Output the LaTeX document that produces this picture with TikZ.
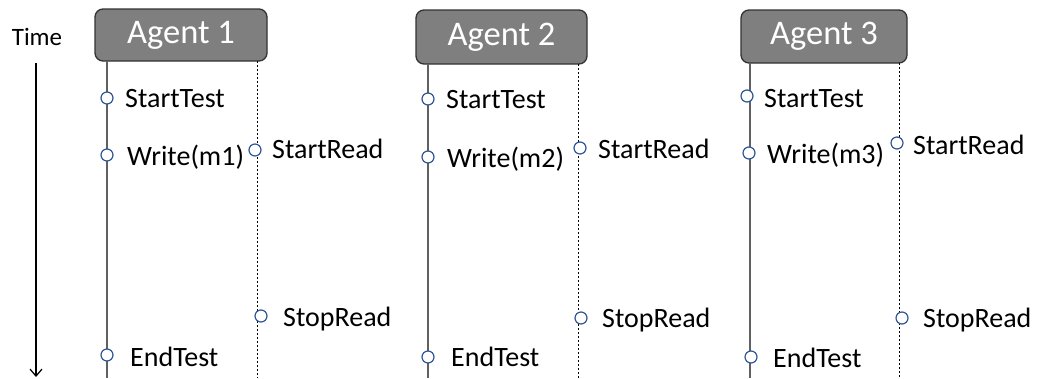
\documentclass[tikz,border=0pt]{standalone}
\usepackage{fontspec}
\setmainfont{Carlito}
\usetikzlibrary{arrows.meta}
\definecolor{boxfill}{HTML}{7F7F7F}
\definecolor{boxdraw}{HTML}{333333}
\definecolor{lifegray}{HTML}{606060}
\definecolor{evblue}{HTML}{2F5597}
\tikzset{
  agentbox/.style={draw=boxdraw, line width=1.3pt, fill=boxfill, rounded corners=8pt, text=white,
    font=\fontsize{34.5}{40}\selectfont, inner sep=0pt},
  life/.style={draw=lifegray, line width=1.2pt},
  readline/.style={draw=black, line width=0.8pt, dash pattern=on 2pt off 2pt},
  ev/.style={circle, draw=evblue, fill=white, line width=1.2pt, minimum size=12pt, inner sep=0pt},
  lbl/.style={anchor=base west, inner sep=0pt, font=\fontsize{28}{32}\selectfont},
  timelbl/.style={anchor=base, inner sep=0pt, font=\fontsize{25}{30}\selectfont},
}
\begin{document}
\begin{tikzpicture}[x=1pt,y=-1pt]
\useasboundingbox (0,0) rectangle (1043,378);
% Time axis
\node[timelbl] (time) at (37,45) {Time};
\coordinate (tA) at (36,63);
\coordinate (tB) at (36,377);
\draw[line width=1.2pt, -{Straight Barb[length=7pt,width=12pt,line width=1.2pt]}] (tA) -- (tB);
% Agent boxes
\node[agentbox, minimum width=172pt, minimum height=52pt] (a1) at (181,35) {Agent 1};
\node[agentbox, minimum width=171pt, minimum height=54pt] (a2) at (501.5,37) {Agent 2};
\node[agentbox, minimum width=166pt, minimum height=53pt] (a3) at (824,36.5) {Agent 3};
% lifeline coordinates
\coordinate (s1t) at (107,61); \coordinate (s1b) at (107,378);
\coordinate (d1t) at (257,61); \coordinate (d1b) at (257,378);
\coordinate (s2t) at (428,64); \coordinate (s2b) at (428,378);
\coordinate (d2t) at (578,64); \coordinate (d2b) at (578,378);
\coordinate (s3t) at (750,63); \coordinate (s3b) at (750,378);
\coordinate (d3t) at (899,63); \coordinate (d3b) at (899,378);
\draw[life] (s1t) -- (s1b);
\draw[readline] (d1t) -- (d1b);
\draw[life] (s2t) -- (s2b);
\draw[readline] (d2t) -- (d2b);
\draw[life] (s3t) -- (s3b);
\draw[readline] (d3t) -- (d3b);
% Agent 1 events
\node[ev] (st1) at (107,98) {};
\node[ev] (wr1) at (107,155) {};
\node[ev] (sr1) at (255,150) {};
\node[ev] (sp1) at (261,316) {};
\node[ev] (et1) at (107,355) {};
\node[lbl] (lst1) at (125,107) {StartTest};
\node[lbl] (lwr1) at (127,165) {Write(m1)};
\node[lbl] (lsr1) at (272,158) {StartRead};
\node[lbl] (lsp1) at (283,326) {StopRead};
\node[lbl] (let1) at (130,366) {EndTest};
% Agent 2 events
\node[ev] (st2) at (428,99) {};
\node[ev] (wr2) at (428,157) {};
\node[ev] (sr2) at (580,148) {};
\node[ev] (sp2) at (581,318) {};
\node[ev] (et2) at (428,357) {};
\node[lbl] (lst2) at (446,108) {StartTest};
\node[lbl] (lwr2) at (447,167) {Write(m2)};
\node[lbl] (lsr2) at (598,158) {StartRead};
\node[lbl] (lsp2) at (602,327) {StopRead};
\node[lbl] (let2) at (451,366) {EndTest};
% Agent 3 events
\node[ev] (st3) at (747,96) {};
\node[ev] (wr3) at (749,153) {};
\node[ev] (sr3) at (897,143) {};
\node[ev] (sp3) at (902,318) {};
\node[ev] (et3) at (751,357) {};
\node[lbl] (lst3) at (764,107) {StartTest};
\node[lbl] (lwr3) at (767,163) {Write(m3)};
\node[lbl] (lsr3) at (913,154) {StartRead};
\node[lbl] (lsp3) at (923,327) {StopRead};
\node[lbl] (let3) at (773,367) {EndTest};
\end{tikzpicture}
\end{document}
